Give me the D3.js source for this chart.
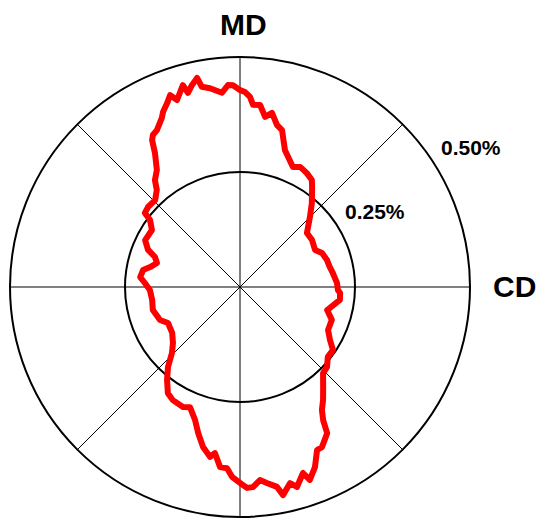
<!DOCTYPE html>
<html>
<head>
<meta charset="utf-8">
<script src="https://cdn.jsdelivr.net/npm/d3@7"></script>
<style>
  html, body { margin: 0; padding: 0; background: #fff; }
  svg { display: block; }
  text { font-family: "Liberation Sans", Arial, sans-serif; font-weight: bold; fill: #000; }
</style>
</head>
<body>
<svg id="chart" width="539" height="518"></svg>
<script>
// Shrinkage profile: direction (degrees clockwise from MD) and value (%)
const angles = [
  0, 1.5, 3.0, 4.1, 6.3, 8.4, 10.4, 12.9, 15.0, 18.2, 23.8, 26.6, 30.4, 33.9, 35.8,
  40.6, 45.0, 51.1, 56.9, 63.7, 67.5, 72.8, 77.5, 81.4, 87.6, 91.8, 93.4, 97.4,
  104.8, 109.7, 116.0, 120.5, 124.1, 128.5, 132.6, 136.0, 140.3, 143.7, 146.3,
  148.0, 149.2, 152.9, 154.7, 157.4, 160.1, 161.3, 164.1, 165.7, 168.3, 169.5,
  172.2, 174.1, 176.3, 178.0, 180.0, 182.4, 184.1, 186.3, 188.6, 190.0, 193.0,
  196.0, 198.7, 202.6, 205.4, 210.7, 214.2, 218.1, 222.0, 225.9, 230.1, 235.9,
  243.4, 247.6, 255.2, 261.6, 268.1, 272.4, 275.7, 279.9, 282.5, 286.1, 289.4,
  292.1, 296.3, 302.9, 306.7, 307.9, 311.0, 315.7, 319.4, 321.5, 324.6, 327.6,
  329.1, 330.2, 332.1, 335.2, 336.3, 338.4, 340.0, 341.4, 342.9, 344.2, 345.0,
  346.6, 348.4, 349.2, 351.4, 354.7, 356.6, 358.0
];
const values = [
  0.428, 0.424, 0.414, 0.397, 0.398, 0.374, 0.385, 0.361, 0.353, 0.313, 0.285, 0.292, 0.287, 0.280, 0.268,
  0.240, 0.215, 0.187, 0.187, 0.182, 0.193, 0.198, 0.200, 0.204, 0.211, 0.213, 0.218, 0.219,
  0.196, 0.212, 0.213, 0.227, 0.244, 0.244, 0.257, 0.260, 0.283, 0.305, 0.321,
  0.341, 0.370, 0.391, 0.392, 0.424, 0.446, 0.427, 0.452, 0.440, 0.462, 0.442,
  0.430, 0.422, 0.436, 0.437, 0.426, 0.413, 0.395, 0.394, 0.365, 0.375, 0.357,
  0.330, 0.305, 0.283, 0.289, 0.286, 0.279, 0.257, 0.234, 0.206, 0.190, 0.178,
  0.175, 0.188, 0.196, 0.193, 0.196, 0.207, 0.218, 0.214, 0.200, 0.188, 0.196,
  0.216, 0.230, 0.228, 0.244, 0.262, 0.265, 0.264, 0.278, 0.297, 0.312, 0.345,
  0.372, 0.381, 0.386, 0.405, 0.416, 0.430, 0.444, 0.429, 0.443, 0.456, 0.437,
  0.451, 0.464, 0.443, 0.437, 0.424, 0.440, 0.439
];
const ringTicks = [0.25, 0.50];
const ringLabels = ["0.25%", "0.50%"];
const spokeAngles = [0, 45, 90, 135, 180, 225, 270, 315];
const axisNames = ["MD", "CD"];

const svg = d3.select("#chart");
const cx = 240, cy = 287, R = 230;
const r = d3.scaleLinear().domain([0, 0.5]).range([0, R]);
const rad = d => d * Math.PI / 180;

const g = svg.append("g").attr("transform", `translate(${cx},${cy})`);

// spokes
g.selectAll("line.spoke").data(spokeAngles).join("line")
  .attr("class", "spoke")
  .attr("x1", 0).attr("y1", 0)
  .attr("x2", d => r(0.5) * Math.sin(rad(d)))
  .attr("y2", d => -r(0.5) * Math.cos(rad(d)))
  .attr("stroke", "#000").attr("stroke-width", 1);

// rings
g.selectAll("circle.ring").data(ringTicks).join("circle")
  .attr("class", "ring")
  .attr("r", d => r(d))
  .attr("fill", "none").attr("stroke", "#000").attr("stroke-width", 2);

// profile curve
const pts = angles.map((a, i) => [rad(a), r(values[i])]);
const line = d3.lineRadial().angle(d => d[0]).radius(d => d[1]).curve(d3.curveLinearClosed);
g.append("path").attr("d", line(pts))
  .attr("fill", "none").attr("stroke", "#ff0000").attr("stroke-width", 6)
  .attr("stroke-linejoin", "round");

// ring labels
const ringLabelPos = [[345, 219], [441, 155]];
svg.selectAll("text.ringlab").data(ringLabels).join("text")
  .attr("class", "ringlab")
  .attr("x", (d, i) => ringLabelPos[i][0])
  .attr("y", (d, i) => ringLabelPos[i][1])
  .attr("font-size", 21)
  .text(d => d);

// axis names
svg.append("text").attr("x", 220).attr("y", 35).attr("font-size", 30).text(axisNames[0]);
svg.append("text").attr("x", 493).attr("y", 297).attr("font-size", 30).text(axisNames[1]);
</script>
</body>
</html>
